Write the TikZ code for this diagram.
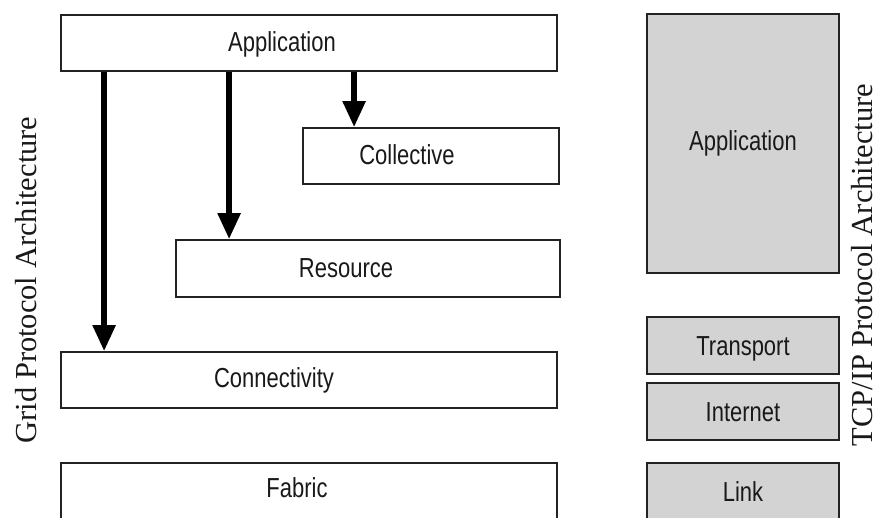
\documentclass[tikz,border=0pt]{standalone}
\usepackage{fontspec}
\setmainfont{Liberation Serif}
\newfontfamily\layerfont[FakeStretch=0.8]{Liberation Sans}
\usetikzlibrary{arrows.meta}
\definecolor{layerfill}{RGB}{211,211,211}
\definecolor{edge}{RGB}{35,35,35}
\definecolor{ink}{RGB}{25,25,25}
\begin{document}
\begin{tikzpicture}[x=1pt,y=-1pt,
  layer/.style={draw=edge, line width=1.8pt, fill=white, inner sep=0pt},
  tcplayer/.style={layer, fill=layerfill},
  lab/.style={font=\layerfont\fontsize{27.5}{30}\selectfont, text=ink,
    text height=19.5pt, text depth=0pt, inner sep=0pt},
  flow/.style={line width=5.5pt, draw=black,
    -{Triangle[width=22pt,length=26pt]}},
  side/.style={rotate=90, text=ink, inner sep=0pt,
    font=\fontsize{30.5}{34}\selectfont}
]
\clip (0,0) rectangle (880,517);

% Grid protocol stack
\node[layer, minimum width=496, minimum height=56] (app)  at (309,43)    {};
\node[layer, minimum width=256, minimum height=56] (coll) at (431,156)   {};
\node[layer, minimum width=384, minimum height=57] (res)  at (368,268.5) {};
\node[layer, minimum width=496, minimum height=56] (conn) at (309,380)   {};
\node[layer, minimum width=496, minimum height=56] (fab)  at (309,491)   {};

\node[lab] (appL)  at ([xshift=-27pt,yshift=1pt]app.center)  {Application};
\node[lab] (collL) at ([xshift=-24pt,yshift=1pt]coll.center) {Collective};
\node[lab] (resL)  at ([xshift=-22pt,yshift=1pt]res.center)  {Resource};
\node[lab] (connL) at ([xshift=-35pt,yshift=2pt]conn.center) {Connectivity};
\node[lab] (fabL)  at ([xshift=-12pt,yshift=3pt]fab.center)  {Fabric};

% TCP/IP stack
\node[tcplayer, minimum width=192, minimum height=259] (tapp)  at (743,143.5) {};
\node[tcplayer, minimum width=192, minimum height=57]  (trans) at (743,345.5) {};
\node[tcplayer, minimum width=192, minimum height=57]  (inet)  at (743,411.5) {};
\node[tcplayer, minimum width=192, minimum height=56]  (link)  at (743,491)   {};

\node[lab] (tappL)  at ([yshift=3pt]tapp.center)  {Application};
\node[lab] (transL) at (trans.center) {Transport};
\node[lab] (inetL)  at (inet.center)  {Internet};
\node[lab] (linkL)  at ([yshift=-1pt]link.center) {Link};

% Calls from the application layer down the stack
\draw[flow] ([xshift=44pt]app.south west)  -- ([xshift=44pt]conn.north west);
\draw[flow] ([xshift=169pt]app.south west) -- ([xshift=54pt]res.north west);
\draw[flow] ([xshift=294pt]app.south west) -- ([xshift=52pt]coll.north west);

% Stack titles
\node[side] (gridT) at (26,280)  {Grid Protocol Architecture};
\node[side] (tcpT)  at (862,265) {TCP/IP Protocol Architecture};
\end{tikzpicture}
\end{document}
